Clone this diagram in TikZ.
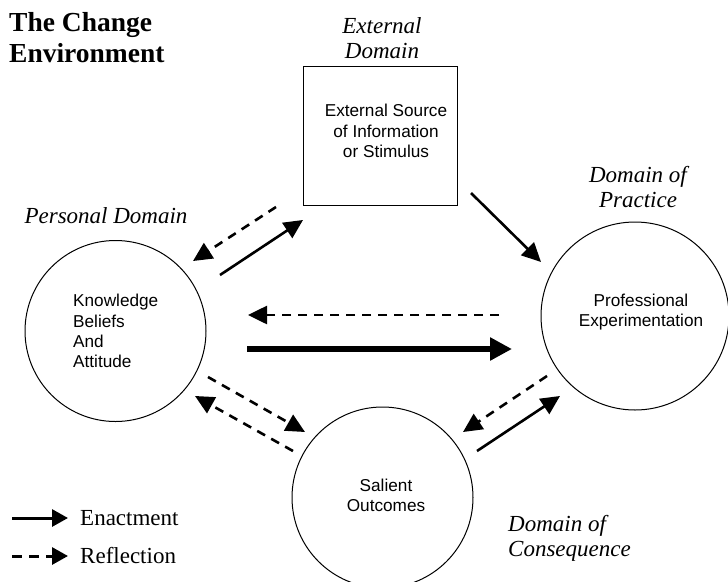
\documentclass[tikz,border=0pt]{standalone}
\usepackage{fontspec}
\setmainfont{Liberation Serif}
\newfontfamily\arialf{Liberation Sans}
\usetikzlibrary{arrows.meta}
\tikzset{
  domcircle/.style={circle,draw,line width=1pt,minimum size=#1,inner sep=0pt},
  dombox/.style={draw,line width=1pt,inner sep=0pt},
  domlabel/.style={font=\fontsize{23}{25}\selectfont\itshape,align=center,inner sep=0pt},
  sanslabel/.style={font=\arialf\fontsize{17.2}{20.2}\selectfont,align=center,inner sep=0pt},
  enact/.style={line width=2.6pt,-{Triangle[length=19pt,width=18pt]}},
  reflect/.style={line width=2.6pt,dash pattern=on 9pt off 7pt,-{Triangle[length=19pt,width=18pt]}},
  bigenact/.style={line width=6pt,-{Triangle[length=22pt,width=22pt]}},
  legendtext/.style={anchor=west,inner sep=0pt,font=\fontsize{23}{26}\selectfont},
}
\begin{document}
\begin{tikzpicture}[x=1pt,y=-1pt]
\useasboundingbox (0,0) rectangle (728,581);
% title
\node[anchor=north west,align=left,inner sep=0pt,font=\fontsize{27.5}{31}\selectfont\bfseries] (title) at (9,12) {The Change\\Environment};
% domain labels
\node[domlabel] (extdom) at (382,38) {External\\Domain};
\node[domlabel] (practice) at (638,187) {Domain of\\Practice};
\node[domlabel,anchor=center] (personal) at (106,216) {Personal Domain};
\node[domlabel,align=left,anchor=west] (conseq) at (508,538) {Domain of\\Consequence};
% shapes
\node[dombox,minimum width=154pt,minimum height=139pt] (box) at (380,135.5) {};
\node[sanslabel] (boxtext) at (386,131) {External Source\\of Information\\or Stimulus};
\node[domcircle=181pt] (left) at (115.5,331) {};
\node[sanslabel,align=left,anchor=west] (lefttext) at (73,331) {Knowledge\\Beliefs\\And\\Attitude};
\node[domcircle=188pt] (right) at (635,316) {};
\node[sanslabel] (righttext) at (641,312) {Professional\\Experimentation};
\node[domcircle=181pt] (bottom) at (382.5,497.5) {};
\node[sanslabel] (bottomtext) at (386,495) {Salient\\Outcomes};
% arrow endpoints
\coordinate (a1s) at (276,207); \coordinate (a1e) at (193,261);
\coordinate (a2s) at (220,275); \coordinate (a2e) at (303,220);
\coordinate (a3s) at (471,193); \coordinate (a3e) at (541,262);
\coordinate (a4s) at (499,315); \coordinate (a4e) at (248,315);
\coordinate (a5s) at (247,349); \coordinate (a5e) at (512,349);
\coordinate (a6s) at (547,376); \coordinate (a6e) at (463,432);
\coordinate (a7s) at (477,451); \coordinate (a7e) at (560,396);
\coordinate (a8s) at (208,377); \coordinate (a8e) at (305,432);
\coordinate (a9s) at (293,451); \coordinate (a9e) at (195,396);
\draw[reflect] (a1s) -- (a1e);
\draw[enact] (a2s) -- (a2e);
\draw[enact] (a3s) -- (a3e);
\draw[reflect] (a4s) -- (a4e);
\draw[bigenact] (a5s) -- (a5e);
\draw[reflect] (a6s) -- (a6e);
\draw[enact] (a7s) -- (a7e);
\draw[reflect] (a8s) -- (a8e);
\draw[reflect] (a9s) -- (a9e);
% legend
\coordinate (l1s) at (12,518); \coordinate (l1e) at (68,518);
\coordinate (l2s) at (12,556); \coordinate (l2e) at (68,556);
\draw[line width=3pt,-{Triangle[length=16pt,width=17pt]}] (l1s) -- (l1e);
\draw[line width=3pt,dash pattern=on 10pt off 7pt,-{Triangle[length=16pt,width=17pt]}] (l2s) -- (l2e);
\node[legendtext] (enl) at (80,518) {Enactment};
\node[legendtext] (rel) at (80,556) {Reflection};
\end{tikzpicture}
\end{document}
